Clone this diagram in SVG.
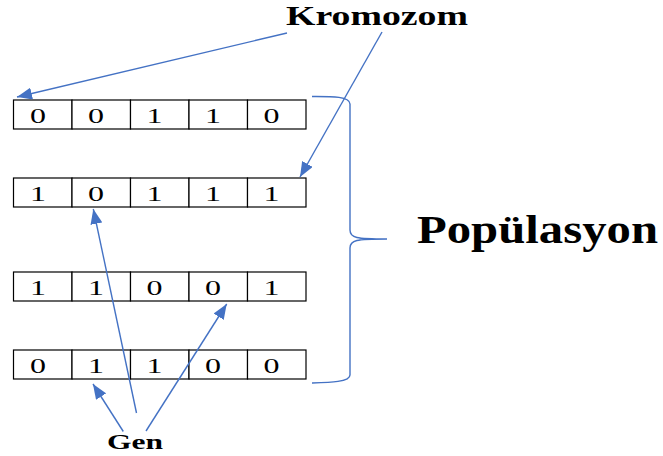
<svg xmlns="http://www.w3.org/2000/svg" width="663" height="456" viewBox="0 0 663 456">
<style>
.cell{fill:#fff;stroke:#000;stroke-width:1.2}
.d{font-family:"Liberation Serif","Times New Roman",serif;font-size:21px;text-anchor:middle;fill:#000}
.lbl{font-family:"Liberation Serif","Times New Roman",serif;font-weight:bold;fill:#000}
.con{fill:none;stroke:#4472C4;stroke-width:1.4}
</style>
<defs>
<marker id="ah" markerUnits="userSpaceOnUse" markerWidth="15" markerHeight="12" refX="15" refY="6" orient="auto">
<path d="M0,0 L15,6 L0,12 z" fill="#4472C4"/>
</marker>
</defs>
<rect width="663" height="456" fill="#fff"/>
<g id="row1">
<rect class="cell" x="13.5" y="100" width="58.5" height="29"/><rect class="cell" x="72" y="100" width="58.5" height="29"/><rect class="cell" x="130.5" y="100" width="58.5" height="29"/><rect class="cell" x="189" y="100" width="58.5" height="29"/><rect class="cell" x="247.5" y="100" width="58.5" height="29"/>
<text class="d" x="38" y="123" textLength="16" lengthAdjust="spacingAndGlyphs">0</text><text class="d" x="96" y="123" textLength="16" lengthAdjust="spacingAndGlyphs">0</text><text class="d" x="154.5" y="123" textLength="16" lengthAdjust="spacingAndGlyphs">1</text><text class="d" x="213" y="123" textLength="16" lengthAdjust="spacingAndGlyphs">1</text><text class="d" x="271.5" y="123" textLength="16" lengthAdjust="spacingAndGlyphs">0</text>
</g>
<g id="row2">
<rect class="cell" x="13.5" y="178" width="58.5" height="29"/><rect class="cell" x="72" y="178" width="58.5" height="29"/><rect class="cell" x="130.5" y="178" width="58.5" height="29"/><rect class="cell" x="189" y="178" width="58.5" height="29"/><rect class="cell" x="247.5" y="178" width="58.5" height="29"/>
<text class="d" x="38" y="201" textLength="16" lengthAdjust="spacingAndGlyphs">1</text><text class="d" x="96" y="201" textLength="16" lengthAdjust="spacingAndGlyphs">0</text><text class="d" x="154.5" y="201" textLength="16" lengthAdjust="spacingAndGlyphs">1</text><text class="d" x="213" y="201" textLength="16" lengthAdjust="spacingAndGlyphs">1</text><text class="d" x="271.5" y="201" textLength="16" lengthAdjust="spacingAndGlyphs">1</text>
</g>
<g id="row3">
<rect class="cell" x="13.5" y="272" width="58.5" height="29"/><rect class="cell" x="72" y="272" width="58.5" height="29"/><rect class="cell" x="130.5" y="272" width="58.5" height="29"/><rect class="cell" x="189" y="272" width="58.5" height="29"/><rect class="cell" x="247.5" y="272" width="58.5" height="29"/>
<text class="d" x="38" y="295" textLength="16" lengthAdjust="spacingAndGlyphs">1</text><text class="d" x="96" y="295" textLength="16" lengthAdjust="spacingAndGlyphs">1</text><text class="d" x="154.5" y="295" textLength="16" lengthAdjust="spacingAndGlyphs">0</text><text class="d" x="213" y="295" textLength="16" lengthAdjust="spacingAndGlyphs">0</text><text class="d" x="271.5" y="295" textLength="16" lengthAdjust="spacingAndGlyphs">1</text>
</g>
<g id="row4">
<rect class="cell" x="13.5" y="350" width="58.5" height="29"/><rect class="cell" x="72" y="350" width="58.5" height="29"/><rect class="cell" x="130.5" y="350" width="58.5" height="29"/><rect class="cell" x="189" y="350" width="58.5" height="29"/><rect class="cell" x="247.5" y="350" width="58.5" height="29"/>
<text class="d" x="38" y="373" textLength="16" lengthAdjust="spacingAndGlyphs">0</text><text class="d" x="96" y="373" textLength="16" lengthAdjust="spacingAndGlyphs">1</text><text class="d" x="154.5" y="373" textLength="16" lengthAdjust="spacingAndGlyphs">1</text><text class="d" x="213" y="373" textLength="16" lengthAdjust="spacingAndGlyphs">0</text><text class="d" x="271.5" y="373" textLength="16" lengthAdjust="spacingAndGlyphs">0</text>
</g>
<g id="kromozom"><text class="lbl" x="286" y="25" font-size="27" textLength="182" lengthAdjust="spacingAndGlyphs">Kromozom</text></g>
<g id="populasyon"><text class="lbl" x="417" y="243" font-size="39" textLength="241" lengthAdjust="spacingAndGlyphs">Popülasyon</text></g>
<g id="gen"><text class="lbl" x="107" y="449" font-size="21.5" textLength="56" lengthAdjust="spacingAndGlyphs">Gen</text></g>
<g id="brace"><path class="con" d="M312,96.5 C330,96.5 350,96 350,104 L350,230 C350,238 356,239 387,239 C356,239 350,240 350,248 L350,375 C350,382 330,382.5 312,383"/></g>
<g id="connectors">
<line class="con" x1="287" y1="33" x2="17" y2="97" marker-end="url(#ah)"/>
<line class="con" x1="382" y1="32" x2="300" y2="177" marker-end="url(#ah)"/>
<line class="con" x1="136.5" y1="413" x2="93.3" y2="209" marker-end="url(#ah)"/>
<line class="con" x1="146" y1="431" x2="226.7" y2="304" marker-end="url(#ah)"/>
<line class="con" x1="123.3" y1="431.5" x2="93" y2="384" marker-end="url(#ah)"/>
</g>
</svg>
